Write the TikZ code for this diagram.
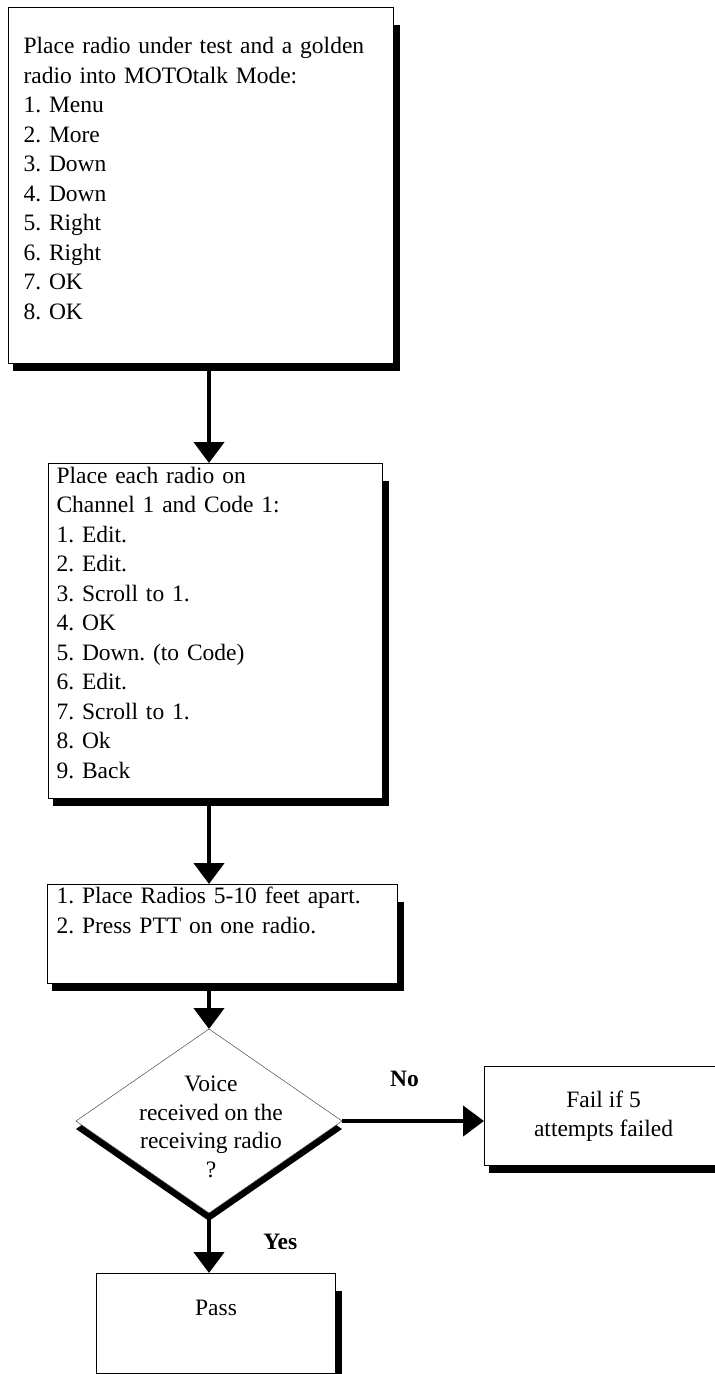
\documentclass[tikz,border=0pt]{standalone}
\usepackage{fontspec}
\setmainfont{Liberation Serif}
\usetikzlibrary{shapes.geometric,arrows.meta,backgrounds,calc}
\frenchspacing

\newcommand{\boxshade}[1]{%
  \fill ($(#1.south west)+(5,7)$) rectangle ($(#1.north east)+(6,18)$);}

\begin{document}
\begin{tikzpicture}[
  x=1pt, y=-1pt,
  font=\fontsize{23.5}{29.5}\selectfont,
  arrow/.style={-{Triangle[length=21pt,width=30pt]}, line width=4.5pt},
  box/.style={rectangle, draw=black, fill=white, line width=1.1pt,
              anchor=north west, inner ysep=0pt, align=left},
  decision/.style={diamond, draw=black!70, fill=white, line width=0.5pt,
                   inner sep=0pt, outer sep=0pt},
  lbl/.style={font=\fontsize{23.5}{29.5}\selectfont\bfseries, inner sep=0pt}
]
\useasboundingbox (0,0) rectangle (715,1374);

% --- Steps, top to bottom ---
\node[box, minimum width=385pt, minimum height=356pt, inner xsep=15pt,
      text width=355pt] (setmode) at (8,7) {%
Place radio under test and a golden\\radio into MOTOtalk Mode:\\1. Menu\\2. More\\3. Down\\4. Down\\5. Right\\6. Right\\7. OK\\8. OK\\[-15pt]\mbox{}};

\node[box, minimum width=334pt, minimum height=335pt, inner xsep=8pt,
      text width=318pt] (setchan) at (48,463) {%
Place each radio on\\Channel 1 and Code 1:\\1. Edit.\\2. Edit.\\3. Scroll to 1.\\4. OK\\5. Down. (to Code)\\6. Edit.\\7. Scroll to 1.\\8. Ok\\9. Back\\[-13pt]\mbox{}};

\node[box, minimum width=350pt, minimum height=99pt, inner xsep=9pt,
      text width=332pt] (talk) at (47,884) {%
1. Place Radios 5-10 feet apart.\\2. Press PTT on one radio.\\[18pt]\mbox{}};

% --- Decision ---
\node[decision, minimum width=266pt, minimum height=184pt] (check) at (209,1121) {};
\node[align=center, font=\fontsize{23.5}{28.7}\selectfont] (checktext) at (211,1127)
  {Voice\\received on the\\receiving radio\\?};

% --- Outcomes ---
\node[box, minimum width=238pt, minimum height=99pt, align=center] (fail) at (484,1066)
  {Fail if 5\\attempts failed};
\node[box, minimum width=239pt, minimum height=100pt, align=center] (pass) at (96,1273)
  {Pass\\[2.5pt]\mbox{}};

% --- Shadows ---
\begin{scope}[on background layer]
\boxshade{setmode}
\boxshade{setchan}
\boxshade{talk}
\boxshade{fail}
\boxshade{pass}
\fill ($(check.west)+(0,8)$) -- ($(check.south)+(0,8)$) -- ($(check.east)+(0,8)$)
  -- ($(check.north)+(0,8)$) -- cycle;
\end{scope}

% --- Arrows ---
\draw[arrow] (setmode.south -| check.north) -- (setchan.north -| check.north);
\draw[arrow] (setchan.south -| check.north) -- (talk.north -| check.north);
\draw[arrow] (talk.south -| check.north) -- (check.north);
\draw[arrow] (check.east) -- node[lbl, above=32pt, pos=0.44] {No} (check.east -| fail.west);
\draw[arrow] (check.south) -- node[lbl, right=52pt, pos=0.48] {Yes} (pass.north -| check.south);

\end{tikzpicture}
\end{document}
